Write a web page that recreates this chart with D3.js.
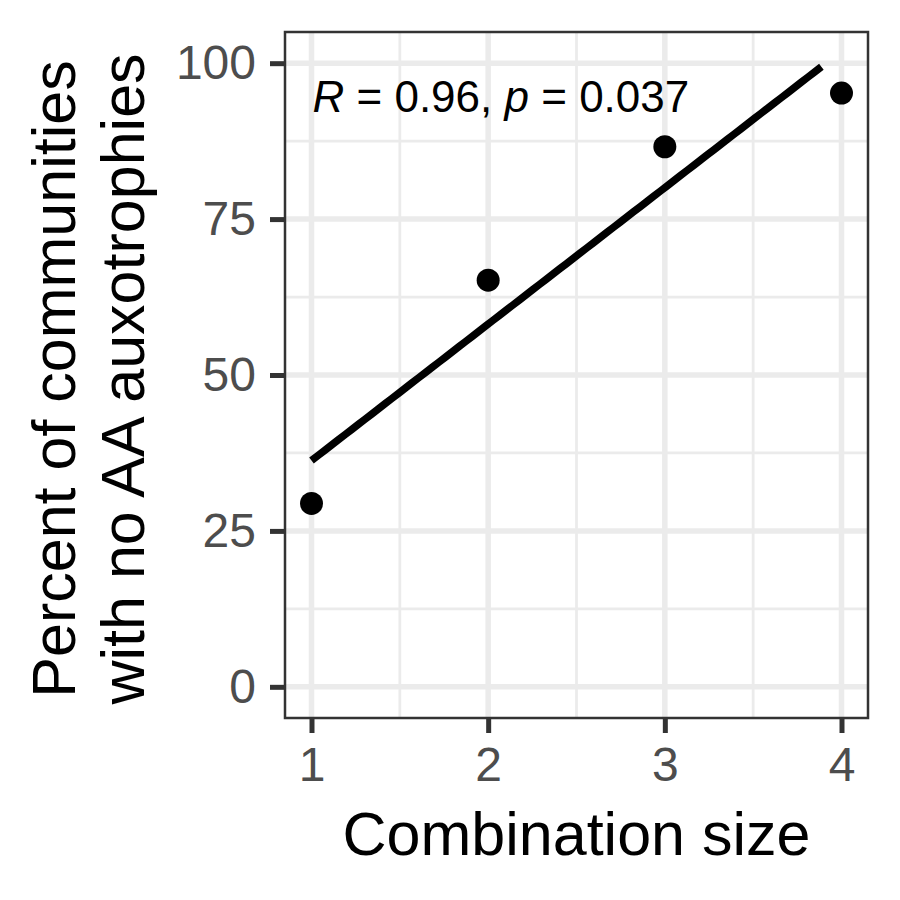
<!DOCTYPE html>
<html lang="en">
<head>
    <meta charset="UTF-8">
    <title>Combination size vs communities with no AA auxotrophies</title>
    <style>
        html, body {
            margin: 0;
            padding: 0;
            background: #ffffff;
        }
        svg text {
            font-family: "Liberation Sans", Arial, Helvetica, sans-serif;
        }
    </style>
</head>
<body>
    <svg id="chart" width="900" height="900"></svg>

    <script src="https://cdn.jsdelivr.net/npm/d3@7"></script>
    <script>
        // data
        const sizes = [1, 2, 3, 4];
        const pctNoAux = [29.4, 65.2, 86.6, 95.2];

        const xTicks = [1, 2, 3, 4];
        const xMinor = [1.5, 2.5, 3.5];
        const yTicks = [0, 25, 50, 75, 100];
        const yMinor = [12.5, 37.5, 62.5, 87.5];

        const statNames = ['R', 'p'];
        const statValues = ['0.96', '0.037'];

        const yTitleLines = ['Percent of communities', 'with no AA auxotrophies'];
        const xTitle = 'Combination size';

        const svg = d3.select('#chart');

        // panel box
        const pLeft = 285, pRight = 868, pTop = 32, pBottom = 718;

        const x = d3.scaleLinear().domain([0.85, 4.15]).range([pLeft, pRight]);
        const y = d3.scaleLinear().domain([-5, 105]).range([pBottom, pTop]);

        // panel background + grid
        svg.append('rect')
            .attr('x', pLeft).attr('y', pTop)
            .attr('width', pRight - pLeft).attr('height', pBottom - pTop)
            .attr('fill', '#ffffff');

        const grid = svg.append('g');
        grid.selectAll('.minor-x').data(xMinor).enter().append('line')
            .attr('x1', d => x(d)).attr('x2', d => x(d))
            .attr('y1', pTop).attr('y2', pBottom)
            .attr('stroke', '#EBEBEB').attr('stroke-width', 2.8);
        grid.selectAll('.minor-y').data(yMinor).enter().append('line')
            .attr('y1', d => y(d)).attr('y2', d => y(d))
            .attr('x1', pLeft).attr('x2', pRight)
            .attr('stroke', '#EBEBEB').attr('stroke-width', 2.8);
        grid.selectAll('.major-x').data(xTicks).enter().append('line')
            .attr('x1', d => x(d)).attr('x2', d => x(d))
            .attr('y1', pTop).attr('y2', pBottom)
            .attr('stroke', '#EBEBEB').attr('stroke-width', 5.5);
        grid.selectAll('.major-y').data(yTicks).enter().append('line')
            .attr('y1', d => y(d)).attr('y2', d => y(d))
            .attr('x1', pLeft).attr('x2', pRight)
            .attr('stroke', '#EBEBEB').attr('stroke-width', 5.5);

        // linear fit, evaluated like geom_smooth (80 points) and cut at the y limit
        const mx = d3.mean(sizes), my = d3.mean(pctNoAux);
        const slope = d3.sum(sizes, (d, i) => (d - mx) * (pctNoAux[i] - my)) /
                      d3.sum(sizes, d => (d - mx) * (d - mx));
        const icpt = my - slope * mx;
        const [x0, x1] = d3.extent(sizes);
        const fit = d3.range(80)
            .map(k => x0 + k * (x1 - x0) / 79)
            .map(v => [v, icpt + slope * v])
            .filter(p => p[1] >= 0 && p[1] <= 100);

        svg.append('path')
            .datum(fit)
            .attr('d', d3.line().x(d => x(d[0])).y(d => y(d[1])))
            .attr('fill', 'none')
            .attr('stroke', '#000000')
            .attr('stroke-width', 7.5)
            .attr('stroke-linecap', 'butt');

        // points
        svg.append('g').selectAll('circle')
            .data(sizes)
            .enter()
            .append('circle')
            .attr('cx', d => x(d))
            .attr('cy', (d, i) => y(pctNoAux[i]))
            .attr('r', 11.5)
            .attr('fill', '#000000');

        // correlation label
        const lab = svg.append('text')
            .attr('x', x(1) + 1)
            .attr('y', 112)
            .attr('font-size', 44)
            .attr('fill', '#000000');
        statNames.forEach((n, i) => {
            lab.append('tspan').attr('font-style', 'italic').text(n);
            lab.append('tspan').text(' = ' + statValues[i] + (i < statNames.length - 1 ? ', ' : ''));
        });

        // panel border
        svg.append('rect')
            .attr('x', pLeft).attr('y', pTop)
            .attr('width', pRight - pLeft).attr('height', pBottom - pTop)
            .attr('fill', 'none')
            .attr('stroke', '#333333')
            .attr('stroke-width', 2.5);

        // axes
        const xAxis = svg.append('g')
            .attr('transform', `translate(0,${pBottom})`)
            .call(d3.axisBottom(x).tickValues(xTicks).tickSize(15).tickPadding(14).tickFormat(d3.format('d')));
        const yAxis = svg.append('g')
            .attr('transform', `translate(${pLeft},0)`)
            .call(d3.axisLeft(y).tickValues(yTicks).tickSize(15).tickPadding(14).tickFormat(d3.format('d')));

        [xAxis, yAxis].forEach(a => {
            a.select('.domain').remove();
            a.selectAll('.tick line').attr('stroke', '#333333').attr('stroke-width', 5);
            a.selectAll('.tick text')
                .attr('fill', '#4D4D4D')
                .attr('font-size', 48)
                .attr('font-family', '"Liberation Sans", Arial, sans-serif');
        });

        // axis titles
        svg.append('text')
            .attr('x', (pLeft + pRight) / 2)
            .attr('y', 855)
            .attr('text-anchor', 'middle')
            .attr('font-size', 61)
            .attr('fill', '#000000')
            .text(xTitle);

        const midY = (pTop + pBottom) / 2 + 4;
        svg.append('g')
            .selectAll('text')
            .data(yTitleLines)
            .enter()
            .append('text')
            .attr('transform', (d, i) => `translate(${75 + i * 69},${midY}) rotate(-90)`)
            .attr('text-anchor', 'middle')
            .attr('font-size', 61)
            .attr('fill', '#000000')
            .text(d => d);
    </script>
</body>
</html>
